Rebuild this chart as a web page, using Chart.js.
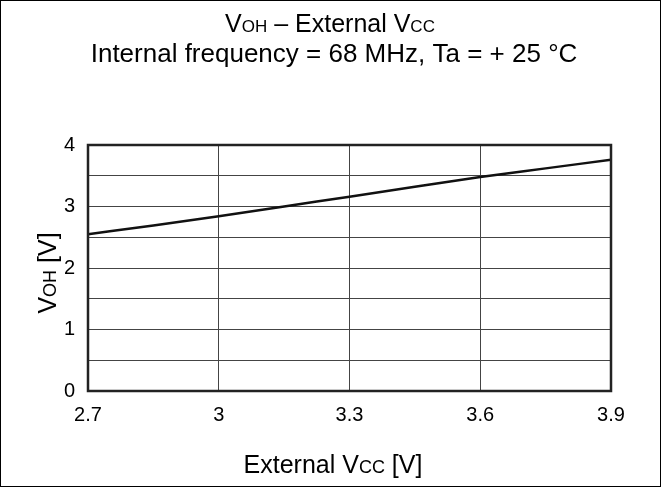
<!DOCTYPE html>
<html>
<head>
<meta charset="utf-8">
<script src="https://cdn.jsdelivr.net/npm/chart.js@4"></script>
<style>
  html, body { margin: 0; padding: 0; background: #fff; }
  #wrap { width: 661px; height: 487px; position: relative; }
</style>
</head>
<body>
<div id="wrap"><canvas id="vohChart"></canvas></div>
<script>
// values
const vccValues = [2.7, 2.85, 3.0, 3.15, 3.3, 3.45, 3.6, 3.75, 3.9];
const vohValues = [2.55, 2.69, 2.84, 3.0, 3.16, 3.32, 3.48, 3.62, 3.76];
const xTicks = [2.7, 3.0, 3.3, 3.6, 3.9];
const yTickLabels = [0, 1, 2, 3, 4];

const FONT = 'Liberation Sans, Arial, sans-serif';
Chart.defaults.font.family = FONT;
Chart.defaults.font.size = 20;
Chart.defaults.color = '#000';

// draws a line of text made of [text, fontSize] pieces, centered at cx
function drawRich(ctx, parts, cx, cy) {
  let total = 0;
  parts.forEach(p => {
    ctx.font = p[1] + 'px ' + FONT;
    total += ctx.measureText(p[0]).width;
  });
  let x = cx - total / 2;
  ctx.textBaseline = 'alphabetic';
  ctx.textAlign = 'left';
  parts.forEach(p => {
    ctx.font = p[1] + 'px ' + FONT;
    ctx.fillText(p[0], x, cy);
    x += ctx.measureText(p[0]).width;
  });
}

const labelsPlugin = {
  id: 'labels',
  afterDraw(chart) {
    const ctx = chart.ctx;
    const a = chart.chartArea;
    ctx.save();
    ctx.fillStyle = '#000';
    drawRich(ctx, [['V', 25], ['OH', 17], [' \u2013 External V', 25], ['CC', 17]], 330, 32);
    drawRich(ctx, [['Internal frequency = 68 MHz, Ta = + 25 \u00B0C', 26]], 334, 62);
    drawRich(ctx, [['External V', 25], ['CC', 18], [' [V]', 25]], 333, 473);
    ctx.translate(56, 273);
    ctx.rotate(-Math.PI / 2);
    drawRich(ctx, [['V', 25], ['OH', 18], [' [V]', 25]], 0, 0);
    ctx.restore();

    // plot frame and outer border
    ctx.save();
    ctx.strokeStyle = '#222';
    ctx.lineWidth = 2.5;
    ctx.strokeRect(a.left, a.top, a.right - a.left, a.bottom - a.top);
    ctx.strokeStyle = '#000';
    ctx.lineWidth = 1;
    ctx.strokeRect(0.5, 0.5, chart.width - 1, chart.height - 1);
    ctx.restore();
  }
};

const ctx = document.getElementById('vohChart').getContext('2d');
const vohChart = new Chart(ctx, {
  type: 'line',
  data: {
    datasets: [{
      data: vccValues.map((v, i) => ({ x: v, y: vohValues[i] })),
      borderColor: '#111',
      borderWidth: 2.5,
      pointRadius: 0,
      cubicInterpolationMode: 'monotone',
      fill: false
    }]
  },
  options: {
    responsive: true,
    maintainAspectRatio: false,
    animation: false,
    layout: { padding: { left: 58, right: 50, top: 145, bottom: 56 } },
    plugins: { legend: { display: false }, tooltip: { enabled: false } },
    scales: {
      x: {
        type: 'linear',
        min: 2.7,
        max: 3.9,
        afterBuildTicks: s => { s.ticks = xTicks.map(v => ({ value: v })); },
        afterFit: s => { s.height = 40; },
        grid: { color: '#444', lineWidth: 1, drawTicks: false },
        border: { display: false },
        ticks: {
          padding: 12,
          font: { size: 20 },
          maxRotation: 0,
          callback: v => String(Math.round(v * 10) / 10)
        }
      },
      y: {
        min: 0,
        max: 4,
        afterFit: s => { s.width = 30; },
        grid: { color: '#444', lineWidth: 1, drawTicks: false },
        border: { display: false },
        ticks: {
          stepSize: 0.5,
          padding: 13,
          font: { size: 20 },
          callback: v => yTickLabels.includes(v) ? String(v) : ''
        }
      }
    }
  },
  plugins: [labelsPlugin]
});
</script>
</body>
</html>
